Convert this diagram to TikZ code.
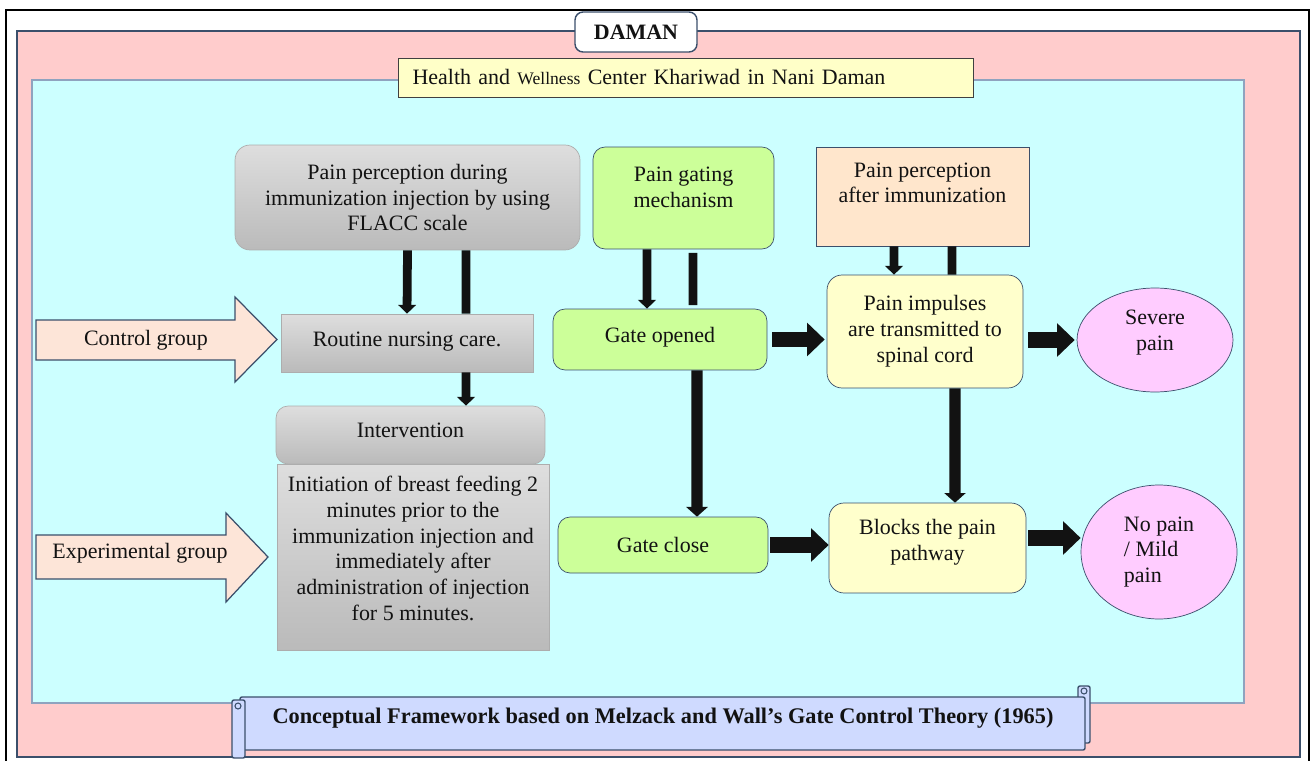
\documentclass[tikz,border=0pt]{standalone}
\usepackage{fontspec}
\setmainfont{Liberation Serif}
\usepackage{xcolor}
\usetikzlibrary{shapes,arrows.meta,positioning}

\definecolor{framepink}{RGB}{255,204,204}
\definecolor{framecyan}{RGB}{204,255,255}
\definecolor{edgeblue}{RGB}{59,79,107}
\definecolor{edgegrey}{RGB}{143,163,191}
\definecolor{gatinggreen}{RGB}{204,255,153}
\definecolor{afterpeach}{RGB}{255,230,204}
\definecolor{pulseyellow}{RGB}{255,255,204}
\definecolor{outcomepink}{RGB}{255,204,255}
\definecolor{groupsalmon}{RGB}{253,229,216}
\definecolor{scrollblue}{RGB}{207,218,255}
\definecolor{banneryellow}{RGB}{255,255,200}

\tikzset{
    txt/.style={font=\fontsize{12.5}{14.7}\selectfont, align=center, inner sep=0pt},
    greybox/.style={txt, draw=black!32, top color=black!13, bottom color=black!27},
    greenbox/.style={txt, draw=edgeblue, fill=gatinggreen, rounded corners=0.24cm},
    yellowbox/.style={txt, draw=edgeblue, fill=pulseyellow, rounded corners=0.3cm},
    outcome/.style={txt, ellipse, draw=edgeblue, fill=outcomepink},
    grouparrow/.style={draw=edgeblue, line width=0.7pt, fill=groupsalmon},
    vdown/.style={line width=5pt, -{Triangle[width=10pt,length=5pt]}},
    vlong/.style={line width=6.5pt, -{Triangle[width=12pt,length=5.5pt]}},
    vbar/.style={line width=5pt},
    hright/.style={line width=9pt, -{Triangle[width=18.5pt,length=10pt]}}
}

\begin{document}
\begin{tikzpicture}[x=0.02cm, y=-0.02cm, black!93]
    \useasboundingbox (0,0) rectangle (1310,760);

    % frames
    \draw[line width=1.2pt, black] (6,765) -- (6,10) -- (1309,10) -- (1309,765);
    \draw[
        line width=1pt,
        draw=edgeblue,
        fill=framepink
    ] (17,31) rectangle (1300,757);
    \draw[
        line width=1.2pt,
        draw=edgegrey,
        fill=framecyan
    ] (32,80) rectangle (1244,703);

    \node[txt, draw=edgeblue, fill=white, rounded corners=0.16cm, line width=0.8pt,
        minimum width=2.44cm, minimum height=0.8cm, font=\fontsize{12.5}{14.7}\selectfont\bfseries]
        (daman) at (636,32) {DAMAN};
    \node[txt, draw=black!75, fill=banneryellow, align=left,
        text width=10.94cm, inner xsep=0.28cm, minimum height=0.78cm]
        (center) at (686,77.5) {Health and {\fontsize{10}{12}\selectfont Wellness} Center Khariwad in Nani Daman};

    % left column
    \node[greybox, rounded corners=0.3cm, minimum width=6.9cm, minimum height=2.1cm]
        (during) at (407.5,197.5) {Pain perception during\\immunization injection by using\\FLACC scale};
    \node[greybox, minimum width=5.04cm, minimum height=1.16cm]
        (routine) at (407,343) {Routine nursing care.\\[-10pt]};
    \node[greybox, rounded corners=0.24cm, minimum width=5.38cm, minimum height=1.16cm]
        (intervention) at (410.5,435) {Intervention\\[-9pt]};
    \node[greybox, minimum width=5.44cm, minimum height=3.72cm]
        (initiation) at (413,557) {Initiation of breast feeding 2\\minutes prior to the\\immunization injection and\\immediately after\\administration of injection\\for 5 minutes.\\[-4.7pt]};

    % group arrows
    \draw[grouparrow] (36,320) -- (235,320) -- (235,297) -- (277,339.5)
        -- (235,382) -- (235,360) -- (36,360) -- cycle;
    \node[txt] (control) at (146,340) {Control group};
    \draw[grouparrow] (36,535) -- (226,535) -- (226,513) -- (268,557)
        -- (226,602) -- (226,579) -- (36,579) -- cycle;
    \node[txt] (experimental) at (140,553) {Experimental group};

    % gate column
    \node[greenbox, minimum width=3.62cm, minimum height=2.04cm]
        (gating) at (683.5,198) {Pain gating\\mechanism\\[-2.7pt]};
    \node[greenbox, minimum width=4.28cm, minimum height=1.22cm]
        (opened) at (660,339.5) {Gate opened\\[-10pt]};
    \node[greenbox, minimum width=4.2cm, minimum height=1.12cm]
        (close) at (663,545) {Gate close};

    % pain column
    \node[txt, draw=edgeblue, fill=afterpeach, minimum width=4.26cm, minimum height=1.98cm]
        (after) at (922.5,196.5) {Pain perception\\after immunization\\[1pt]};
    \node[yellowbox, minimum width=3.92cm, minimum height=2.26cm]
        (impulses) at (925,331.5) {Pain impulses\\are transmitted to\\spinal cord};
    \node[yellowbox, minimum width=3.94cm, minimum height=1.8cm]
        (blocks) at (927.5,548) {Blocks the pain\\pathway\\[-5.7pt]};

    % outcomes
    \node[outcome, minimum width=3.12cm, minimum height=2.08cm]
        (severe) at (1155,340) {Severe\\pain\\[-3.3pt]};
    \node[outcome, align=left, minimum width=3.12cm, minimum height=2.68cm]
        (nopain) at (1159,552) {No pain\\/ Mild\\pain};

    % connectors
    \draw[vdown] (during.south) -- (routine.north);
    \draw[vbar] ([xshift=1.17cm]during.south) -- ([xshift=1.18cm]routine.north);
    \draw[vdown] ([xshift=1.18cm]routine.south) -- ([xshift=1.11cm]intervention.north);

    \draw[vdown] ([xshift=-0.73cm]gating.south) -- ([xshift=-0.26cm]opened.north);
    \draw[vbar] ([xshift=0.19cm,yshift=-2pt]gating.south) -- ([xshift=0.66cm,yshift=2pt]opened.north);
    \draw[vlong] ([xshift=0.74cm]opened.south) -- ([xshift=0.68cm]close.north);

    \draw[vdown] ([xshift=-0.57cm]after.south) -- ([xshift=-0.62cm]impulses.north);
    \draw[vbar] ([xshift=0.59cm]after.south) -- ([xshift=0.54cm]impulses.north);
    \draw[vlong] ([xshift=0.6cm]impulses.south) -- ([xshift=0.55cm]blocks.north);

    \draw[hright, shorten <=0.1cm, shorten >=0.04cm] (opened.east) -- (opened.east -| impulses.west);
    \draw[hright, shorten <=0.04cm] (close.east) -- (close.east -| blocks.west);
    \draw[hright, shorten <=0.1cm, shorten >=0.04cm] (severe.west -| impulses.east) -- (severe.west);
    \draw[hright, shorten <=0.04cm] ([yshift=0.2cm]blocks.east) -- ([yshift=0.2cm]blocks.east -| nopain.west);

    % scroll
    \draw[draw=edgeblue, line width=0.8pt, fill=scrollblue, rounded corners=0.04cm]
        (1078,686) rectangle (1090,743);
    \draw[draw=edgeblue, line width=0.8pt, fill=scrollblue, rounded corners=0.04cm]
        (240,697) rectangle (1085,750);
    \draw[draw=edgeblue, line width=0.8pt, fill=scrollblue, rounded corners=0.04cm]
        (232,700) rectangle (245,758);
    \draw[draw=edgeblue, line width=0.6pt] (1084,691) circle (3);
    \draw[draw=edgeblue, line width=0.6pt] (238,706) circle (3);
    \node[txt, font=\fontsize{12.7}{14.7}\selectfont\bfseries] (title) at (663,718)
        {Conceptual Framework based on Melzack and Wall’s Gate Control Theory (1965)};
\end{tikzpicture}
\end{document}
